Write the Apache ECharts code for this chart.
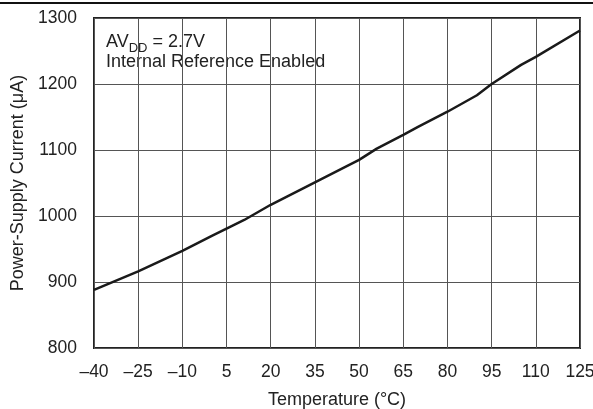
<!DOCTYPE html>
<html><head><meta charset="utf-8">
<script src="https://cdn.jsdelivr.net/npm/echarts@6/dist/echarts.min.js"></script>
<style>html,body{margin:0;padding:0;background:#fff}#c{width:593px;height:409px}</style>
</head><body><div id="c"></div>
<script>
const xTicks = [-40, -25, -10, 5, 20, 35, 50, 65, 80, 95, 110, 125];
const temperature = [-40, -25, -10, 0, 5, 11, 20, 35, 50, 56, 65, 70, 80, 90, 95, 105, 110, 125];
const current = [888, 916, 947, 970, 981, 994, 1017, 1051, 1085, 1102, 1123, 1135, 1158, 1183, 1200, 1229, 1241, 1281];
const yMin = 800, yMax = 1300, yStep = 100;

const font = '"Liberation Sans", Arial, Helvetica, sans-serif';
const chart = echarts.init(document.getElementById('c'), null, {renderer: 'canvas'});
chart.setOption({
  animation: false,
  grid: {left: 94, right: 13, top: 18, bottom: 61, show: true, borderColor: '#222', borderWidth: 2,
         backgroundColor: 'transparent', outerBoundsMode: 'none', containLabel: false},
  xAxis: [{
    type: 'category', data: xTicks.map(v => String(v).replace('-', '\u2013')), boundaryGap: false,
    axisLine: {show: false}, axisTick: {show: false},
    axisLabel: {color: '#222', fontFamily: font, fontSize: 17.5, margin: 15},
    splitLine: {show: true, lineStyle: {color: '#555', width: 1}},
    name: 'Temperature (\u00B0C)', nameLocation: 'middle', nameGap: 43,
    nameTextStyle: {color: '#222', fontFamily: font, fontSize: 18}
  }, {
    type: 'value', min: xTicks[0], max: xTicks[xTicks.length - 1], show: false
  }],
  yAxis: {
    type: 'value', min: yMin, max: yMax, interval: yStep,
    axisLine: {show: false}, axisTick: {show: false},
    axisLabel: {color: '#222', fontFamily: font, fontSize: 17.5, margin: 17, formatter: v => String(v)},
    splitLine: {show: true, lineStyle: {color: '#555', width: 1}},
    name: 'Power-Supply Current (\u03BCA)', nameLocation: 'middle', nameGap: 66,
    nameTextStyle: {color: '#222', fontFamily: font, fontSize: 18}
  },
  graphic: [
    {type: 'line', shape: {x1: 0, y1: 3, x2: 593, y2: 3}, style: {stroke: '#111', lineWidth: 2}},
    {type: 'text', left: 106, top: 33, style: {
      text: '{a|AV}{s|DD}{a| = 2.7V}\n{a|Internal Reference Enabled}',
      rich: {
        a: {fontFamily: font, fontSize: 18, fill: '#222', lineHeight: 20, verticalAlign: 'bottom'},
        s: {fontFamily: font, fontSize: 13, fill: '#222', lineHeight: 20, verticalAlign: 'bottom', padding: [0, 0, -4, 0]}
      }
    }}
  ],
  series: [{
    type: 'line', xAxisIndex: 1, yAxisIndex: 0,
    data: temperature.map((t, i) => [t, current[i]]),
    showSymbol: false, smooth: false,
    lineStyle: {color: '#1a1a1a', width: 2.5}
  }]
});
</script></body></html>
